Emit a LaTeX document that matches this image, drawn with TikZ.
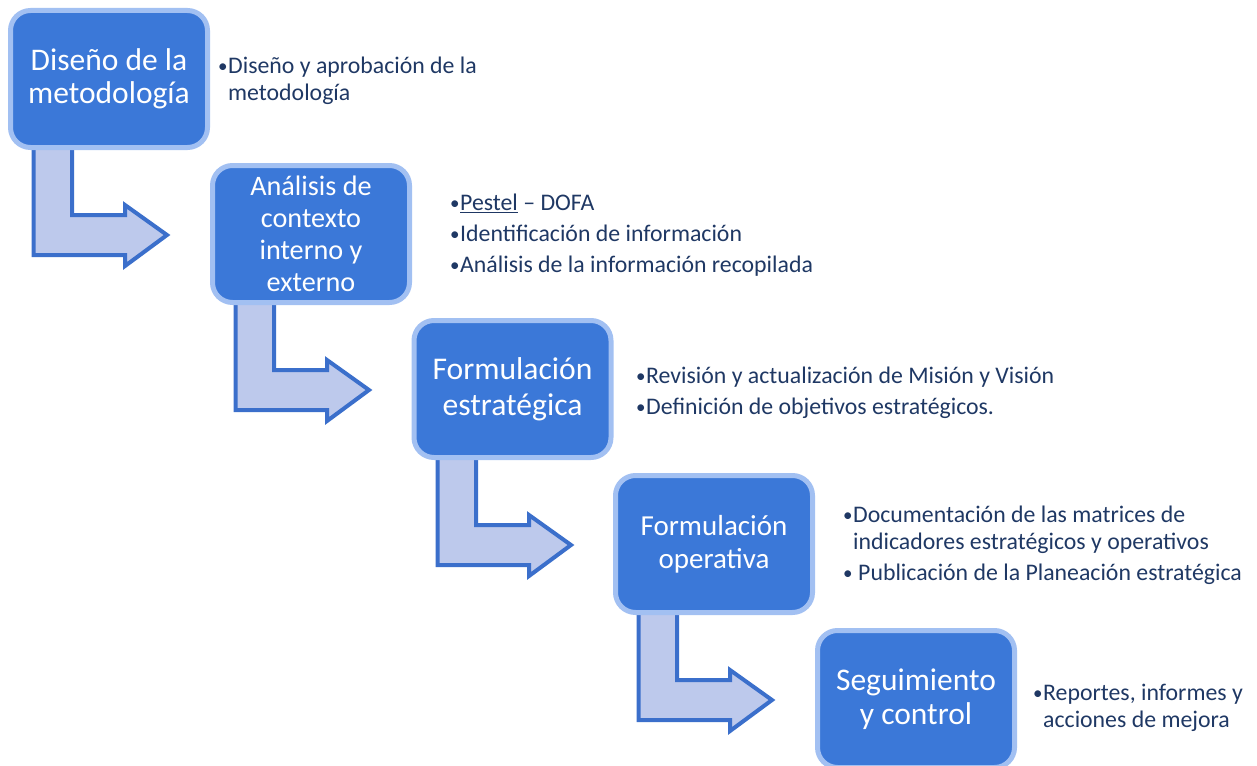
\documentclass[tikz,border=0pt]{standalone}
\usepackage{fontspec}
\setmainfont{Carlito}
\definecolor{boxfill}{HTML}{3B78D8}
\definecolor{boxrim}{HTML}{A2C0F2}
\definecolor{arrfill}{HTML}{BDC9EC}
\definecolor{arrline}{HTML}{3B6FCB}
\definecolor{navy}{HTML}{1F3864}
\newcommand{\bulmark}{\raisebox{1pt}{\fontsize{19}{27}\selectfont •}}
\newcommand{\bul}{\makebox[10pt][l]{\bulmark}}
\begin{document}
\begin{tikzpicture}[x=1pt,y=-1pt,
  stagebox/.style={draw=boxrim, fill=boxfill, line width=5pt, rounded corners=20pt,
    minimum width=197pt, minimum height=137pt, text=white, align=center, inner sep=0pt},
  bentarrow/.style={draw=arrline, fill=arrfill, line width=4pt, line join=miter},
  listtext/.style={anchor=north west, inner sep=0pt, text=navy, align=left,
    font=\fontsize{23.8}{27}\selectfont}]
\useasboundingbox (0,0) rectangle (1257,765);
\clip (0,0) rectangle (1257,765);
% arrows (drawn first, behind boxes)
\coordinate (a1) at (8,150);
\coordinate (a2) at (210,305);
\coordinate (a3) at (412,460);
\coordinate (a4) at (613,615);
\foreach \a in {a1,a2,a3,a4}{
  \begin{scope}[shift={(\a)}]
    \draw[bentarrow] (25.5,-8) -- (25.5,105) -- (117,105) -- (117,116) -- (159,85)
      -- (117,55) -- (117,65) -- (64,65) -- (64,-8) -- cycle;
  \end{scope}
}
% boxes
\node[stagebox, font=\fontsize{31.5}{33}\selectfont] (b1) at (109,79) {Diseño de la\\metodología};
\node[stagebox, font=\fontsize{28.2}{32}\selectfont] (b2) at (311,234) {Análisis de\\contexto\\interno y\\externo};
\node[stagebox, font=\fontsize{31.6}{36}\selectfont] (b3) at (512.5,389) {Formulación\\estratégica};
\node[stagebox, font=\fontsize{29}{33}\selectfont] (b4) at (714,544) {Formulación\\operativa};
\node[stagebox, font=\fontsize{31.5}{34}\selectfont] (b5) at (916,699) {Seguimiento\\y control};
% lists
\node[listtext] (t1) at (218,57) {\bul Diseño y aprobación de la\\\hspace*{10pt}metodología};
\node[listtext] (t2) at (450,194) {\bul \underline{Pestel} – DOFA\\[4pt]\bul Identificación de información\\[4pt]\bul Análisis de la información recopilada};
\node[listtext] (t3) at (636,367) {\bul Revisión y actualización de Misión y Visión\\[4pt]\bul Definición de objetivos estratégicos.};
\node[listtext] (t4) at (843,506) {\bul Documentación de las matrices de\\\hspace*{10pt}indicadores estratégicos y operativos\\[4pt]\makebox[15pt][l]{\bulmark}Publicación de la Planeación estratégica};
\node[listtext] (t5) at (1033,684) {\bul Reportes, informes y\\\hspace*{10pt}acciones de mejora};
\end{tikzpicture}
\end{document}
